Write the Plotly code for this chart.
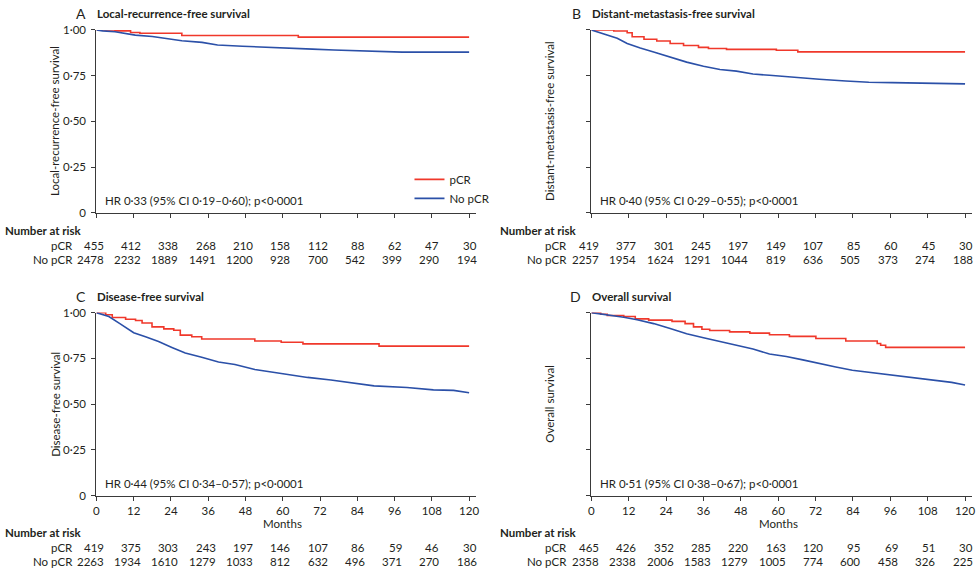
import plotly.graph_objects as go

# ---------------- data ----------------
month_ticks = [0, 12, 24, 36, 48, 60, 72, 84, 96, 108, 120]
y_ticks = [0, 0.25, 0.5, 0.75, 1.0]
y_tick_text = ["0", "0·25", "0·50", "0·75", "1·00"]

panel_letters = ["A", "B", "C", "D"]
panel_titles = ["Local-recurrence-free survival", "Distant-metastasis-free survival",
                "Disease-free survival", "Overall survival"]
y_titles = ["Local-recurrence-free survival", "Distant-metastasis-free survival",
            "Disease-free survival", "Overall survival"]
hr_texts = ["HR 0·33 (95% CI 0·19–0·60); p<0·0001",
            "HR 0·40 (95% CI 0·29–0·55); p<0·0001",
            "HR 0·44 (95% CI 0·34–0·57); p<0·0001",
            "HR 0·51 (95% CI 0·38–0·67); p<0·0001"]

# Panel A – local-recurrence-free survival
a_pcr_t = [0, 6, 11, 14, 27.5, 65, 120]
a_pcr_s = [1.0, 0.995, 0.986, 0.982, 0.970, 0.961, 0.961]
a_no_t = [0, 2, 6, 10.4, 12.5, 18, 23, 27.5, 34, 39, 47, 55, 60.5, 69.6, 76.5, 84.5, 98.4, 120]
a_no_s = [1.0, 0.995, 0.99, 0.979, 0.972, 0.964, 0.950, 0.941, 0.932, 0.918, 0.911, 0.904,
          0.899, 0.895, 0.890, 0.886, 0.879, 0.879]

# Panel B – distant-metastasis-free survival
b_pcr_t = [0, 7.2, 11.5, 13.1, 16.9, 21, 25.3, 29.6, 34.4, 37.6, 43.4, 59.4, 66.3, 120]
b_pcr_s = [1.0, 0.994, 0.985, 0.963, 0.949, 0.940, 0.926, 0.915, 0.905, 0.899, 0.894, 0.889, 0.880, 0.880]
b_no_t = [0, 4, 8.3, 11.5, 15.7, 20, 25.3, 30.6, 36, 41.3, 46.6, 51.9, 57.2, 64.6, 73.2, 81.7,
          89.1, 96.6, 109.4, 120]
b_no_s = [1.0, 0.980, 0.955, 0.926, 0.901, 0.880, 0.851, 0.824, 0.801, 0.784, 0.775, 0.759,
          0.752, 0.741, 0.730, 0.721, 0.714, 0.712, 0.710, 0.705]

# Panel C – disease-free survival
c_pcr_t = [0, 3, 5.1, 9.4, 12.6, 14.7, 17.9, 21.7, 24.9, 27, 30.7, 33.9, 51, 59.5, 66.5, 91, 120]
c_pcr_s = [1.0, 0.988, 0.973, 0.964, 0.957, 0.943, 0.922, 0.911, 0.904, 0.877, 0.868, 0.856,
           0.845, 0.838, 0.829, 0.817, 0.817]
c_no_t = [0, 4, 7.3, 9.4, 12, 15.8, 20, 24.3, 28.6, 33.9, 39.3, 44.6, 51, 57.4, 62.7, 68, 75.5,
          83, 89.4, 100, 104, 108.5, 115, 120]
c_no_s = [1.0, 0.979, 0.943, 0.920, 0.890, 0.868, 0.842, 0.810, 0.779, 0.756, 0.730, 0.717,
          0.689, 0.673, 0.660, 0.646, 0.632, 0.614, 0.600, 0.591, 0.585, 0.578, 0.575, 0.562]

# Panel D – overall survival
d_pcr_t = [0, 3, 5.1, 10.4, 14.1, 18.4, 25.9, 30.1, 32.8, 35.5, 38, 44.4, 50.9, 57.2, 63.6,
           72.1, 81.7, 91.8, 92.9, 94.5, 120]
d_pcr_s = [1.0, 0.991, 0.984, 0.979, 0.966, 0.959, 0.952, 0.940, 0.922, 0.909, 0.902, 0.895,
           0.888, 0.879, 0.870, 0.859, 0.845, 0.831, 0.822, 0.810, 0.810]
d_no_t = [0, 5.1, 10.4, 14.7, 20, 25.3, 30.6, 36, 41.3, 46.6, 51.9, 57.2, 62.6, 67.9, 73.2,
          78.5, 83.8, 89.1, 94.5, 99.8, 105.1, 110.4, 115.7, 120]
d_no_s = [1.0, 0.988, 0.975, 0.961, 0.940, 0.913, 0.884, 0.863, 0.842, 0.824, 0.801, 0.774,
          0.760, 0.742, 0.721, 0.703, 0.685, 0.674, 0.664, 0.653, 0.641, 0.632, 0.619, 0.605]

# Numbers at risk
a_risk_pcr = [455, 412, 338, 268, 210, 158, 112, 88, 62, 47, 30]
a_risk_no = [2478, 2232, 1889, 1491, 1200, 928, 700, 542, 399, 290, 194]
b_risk_pcr = [419, 377, 301, 245, 197, 149, 107, 85, 60, 45, 30]
b_risk_no = [2257, 1954, 1624, 1291, 1044, 819, 636, 505, 373, 274, 188]
c_risk_pcr = [419, 375, 303, 243, 197, 146, 107, 86, 59, 46, 30]
c_risk_no = [2263, 1934, 1610, 1279, 1033, 812, 632, 496, 371, 270, 186]
d_risk_pcr = [465, 426, 352, 285, 220, 163, 120, 95, 69, 51, 30]
d_risk_no = [2358, 2338, 2006, 1583, 1279, 1005, 774, 600, 458, 326, 225]

group_names = ["pCR", "No pCR"]

# ---------------- styling ----------------
W, H = 976, 574
FONT = "Lato"
TXT = "#231f20"
RED = "#f0382b"
BLUE = "#2b50a8"
AXC = "#3a3a3a"

def px_x(p):
    return p / W

def px_y(p):
    return 1 - p / H

# panel geometry in pixels: (x of month 0, x of month 120, y of 1.00, y of 0)
geo = [
    (94, 469, 23.5, 210.5),
    (592, 968, 23.5, 210.5),
    (94, 469, 312.7, 500.0),
    (592, 968, 312.7, 500.0),
]
XMAX = 122.3

curves = [
    (a_pcr_t, a_pcr_s, a_no_t, a_no_s),
    (b_pcr_t, b_pcr_s, b_no_t, b_no_s),
    (c_pcr_t, c_pcr_s, c_no_t, c_no_s),
    (d_pcr_t, d_pcr_s, d_no_t, d_no_s),
]
risks = [
    (a_risk_pcr, a_risk_no),
    (b_risk_pcr, b_risk_no),
    (c_risk_pcr, c_risk_no),
    (d_risk_pcr, d_risk_no),
]

fig = go.Figure()
layout = dict(
    width=W, height=H,
    margin=dict(l=0, r=0, t=0, b=0),
    paper_bgcolor="white", plot_bgcolor="white",
    font=dict(family=FONT, size=11, color=TXT),
    showlegend=True,
    legend=dict(x=px_x(409), y=px_y(161.5), xanchor="left", yanchor="top",
                bgcolor="rgba(0,0,0,0)", font=dict(size=11.5, color=TXT),
                itemwidth=30, tracegroupgap=0),
)
annotations = []

for i in range(4):
    x0, x120, y1, y0 = geo[i]
    ppm = (x120 - x0) / 120.0
    xr = x0 + XMAX * ppm
    sfx = "" if i == 0 else str(i + 1)
    xa, ya = "x" + sfx, "y" + sfx
    bottom = i >= 2
    left = i % 2 == 0

    pt, ps, nt, ns = curves[i]
    fig.add_trace(go.Scatter(x=pt, y=ps, mode="lines", name=group_names[0],
                             line=dict(color=RED, width=1.6, shape="hv"),
                             xaxis=xa, yaxis=ya, showlegend=(i == 0), cliponaxis=False,
                             legendrank=1))
    fig.add_trace(go.Scatter(x=nt, y=ns, mode="lines", name=group_names[1],
                             line=dict(color=BLUE, width=1.6, shape="linear"),
                             xaxis=xa, yaxis=ya, showlegend=(i == 0), cliponaxis=False,
                             legendrank=2))

    layout["xaxis" + sfx] = dict(
        domain=[px_x(x0), px_x(xr)], range=[0, XMAX], anchor=ya,
        showline=True, linecolor=AXC, linewidth=1.2, mirror=False,
        ticks="outside", ticklen=4, tickwidth=1.2, tickcolor=AXC,
        tickvals=month_ticks, ticktext=[str(m) for m in month_ticks],
        showticklabels=bottom, tickfont=dict(size=11.5, color=TXT),
        showgrid=False, zeroline=False, fixedrange=True,
    )
    layout["yaxis" + sfx] = dict(
        domain=[px_y(y0), px_y(y1)], range=[0, 1.0], anchor=xa,
        showline=True, linecolor=AXC, linewidth=1.2,
        ticks="outside", ticklen=4, tickwidth=1.2, tickcolor=AXC,
        tickvals=y_ticks, ticktext=y_tick_text, ticklabelstandoff=3,
        showticklabels=left, tickfont=dict(size=11.5, color=TXT),
        showgrid=False, zeroline=False, fixedrange=True,
    )

    # panel title
    annotations.append(dict(text=panel_letters[i], x=px_x(x0 - 8), y=px_y(y1 - 16.5),
                            xref="paper", yref="paper", xanchor="right", yanchor="middle",
                            showarrow=False, font=dict(size=14, color=TXT)))
    annotations.append(dict(text="<b>" + panel_titles[i] + "</b>", x=px_x(x0 - 1.5), y=px_y(y1 - 16.5),
                            xref="paper", yref="paper", xanchor="left", yanchor="middle",
                            showarrow=False, font=dict(size=11.5, color=TXT)))
    # y-axis title
    annotations.append(dict(text=y_titles[i], x=px_x(x0 - 42), y=px_y((y0 + y1) / 2),
                            xref="paper", yref="paper", xanchor="center", yanchor="middle",
                            textangle=-90, showarrow=False, font=dict(size=11.5, color=TXT)))
    # HR text
    annotations.append(dict(text=hr_texts[i], x=px_x(x0 + 7), y=px_y(y0 - 12.5),
                            xref="paper", yref="paper", xanchor="left", yanchor="middle",
                            showarrow=False, font=dict(size=11.5, color=TXT)))
    # Months label
    if bottom:
        annotations.append(dict(text="Months", x=60, y=px_y(y0 + 28), xref=xa, yref="paper",
                                xanchor="center", yanchor="middle", showarrow=False,
                                font=dict(size=11.5, color=TXT)))
    # number at risk table
    base = y0 + (18.5 if not bottom else 37.7)
    annotations.append(dict(text="<b>Number at risk</b>", x=px_x(x0 - 94), y=px_y(base),
                            xref="paper", yref="paper", xanchor="left", yanchor="middle",
                            showarrow=False, font=dict(size=11.5, color=TXT)))
    for r, gname in enumerate(group_names):
        yy = px_y(base + 15.5 + 14 * r)
        annotations.append(dict(text=gname, x=px_x(x0 - 22), y=yy,
                                xref="paper", yref="paper", xanchor="right", yanchor="middle",
                                showarrow=False, font=dict(size=11.5, color=TXT)))
        for m, v in zip(month_ticks, risks[i][r]):
            annotations.append(dict(text=str(v), x=m, y=yy, xref=xa, yref="paper",
                                    xanchor="right", yanchor="middle", xshift=9.5,
                                    showarrow=False, font=dict(size=11.5, color=TXT)))

layout["annotations"] = annotations
fig.update_layout(**layout)
fig.write_html("out.html", config={"displayModeBar": False},
               post_script="document.body.style.margin='0px';document.body.style.overflow='hidden';")
